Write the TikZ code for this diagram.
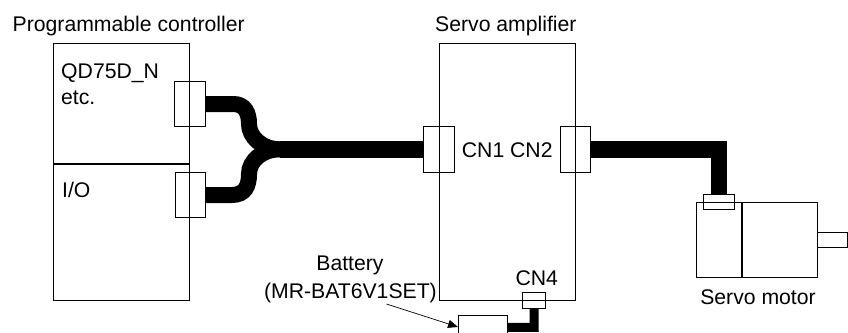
\documentclass[tikz,border=0pt]{standalone}
\usepackage{fontspec}
\setmainfont{Liberation Sans}
\usetikzlibrary{arrows.meta, positioning, calc}
\tikzset{
  unitbox/.style={draw, line width=1pt, minimum width=#1, inner sep=0pt, outer sep=0pt},
  jack/.style={draw, line width=1pt, inner sep=0pt, outer sep=0pt},
  cable/.style={line width=#1, black, line join=miter},
  caption/.style={font=\fontsize{21.2}{25}\selectfont, inner sep=0pt, text=black}
}
\begin{document}
\begin{tikzpicture}[x=1pt,y=-1pt]
  \useasboundingbox (0,0) rectangle (848,332);
  \clip (0,0) rectangle (848,332);

  % Programmable controller
  \node[unitbox=136pt, minimum height=120.5pt] (QD) at (121.5,103.75) {};
  \node[unitbox=136pt, minimum height=136pt] (IO) at (121.5,232) {};
  \draw[line width=1.6pt] (QD.south west) -- (QD.south east);

  % Servo amplifier
  \node[unitbox=136.5pt, minimum height=256.5pt] (amp) at (507.5,171.75) {};

  % Connectors
  \node[jack, minimum width=30.5pt, minimum height=45.5pt] (QDjack) at (190,104) {};
  \node[jack, minimum width=30.5pt, minimum height=45.5pt] (IOjack) at (190.5,195) {};
  \node[jack, minimum width=30.5pt, minimum height=45.5pt] (CNone) at (439.2,149.3) {};
  \node[jack, minimum width=30.5pt, minimum height=45.5pt] (CNtwo) at (575.5,149.3) {};
  \node[jack, minimum width=23.5pt, minimum height=15.5pt] (CNfour) at (534,300.5) {};

  % Servo motor
  \node[unitbox=45.5pt, minimum height=75.5pt] (enc) at (719.5,240) {};
  \node[unitbox=75.5pt, minimum height=75.5pt] (motor) at (780,240) {};
  \draw[line width=1.6pt] (enc.north east) -- (enc.south east);
  \node[jack, minimum width=30.5pt, minimum height=15.5pt] (enc jack) at (719,202) {};
  \node[jack, minimum width=30pt, minimum height=15.5pt, anchor=west] (shaft) at (motor.east) {};

  % Battery
  \node[unitbox=49pt, minimum height=40pt, anchor=north west] (bat) at (458,315.5) {};

  % Cables
  \coordinate (fork) at (280,149.3);
  \coordinate (bend) at (249,124);
  \coordinate (lowbend) at (249,174);
  \coordinate (elbow) at (719,149.3);
  \coordinate (batelbow) at (534.2,327.3);
  \draw[cable=16pt] (QDjack.east) -- ++(28,0) .. controls (245,104) and (249,113) .. (bend) .. controls (249,137) and (262,149.3) .. (fork);
  \draw[cable=16pt] (IOjack.east) -- ++(26,0) .. controls (245,195) and (249,186) .. (lowbend) .. controls (249,161) and (262,149.3) .. (fork);
  \draw[cable=16.4pt] (fork) -- (CNone.west);
  \draw[cable=16.4pt] (CNtwo.east) -- (elbow) -- (enc jack.north);
  \draw[cable=9pt] (CNfour.south) -- (batelbow) -- (bat.east |- batelbow);

  % Battery arrow
  \coordinate (tail) at (386.5,304);
  \draw[line width=0.7pt, -{Triangle[length=10pt,width=8pt]}] (tail) -- (bat.west |- 0,327);

  % Labels
  \node[caption, anchor=base west] (plc label) at (12.5,31) {Programmable controller};
  \node[caption, anchor=base west] (qd label) at (61,78) {QD75D\_N};
  \node[caption, anchor=base west] (etc label) at (61,104) {etc.};
  \node[caption, anchor=base west] (io label) at (62,197) {I/O};
  \node[caption, anchor=base west] (amp label) at (435,31) {Servo amplifier};
  \node[caption, anchor=base west] (cn label) at (461.7,157.3) {CN1 CN2};
  \node[caption] (cnf label) at (536.7,278) {CN4};
  \node[caption] (bat label) at (350,265) {Battery};
  \node[caption, anchor=east] (set label) at (437,293) {(MR-BAT6V1SET)};
  \node[caption] (motor label) at (758,297) {Servo motor};
\end{tikzpicture}
\end{document}
